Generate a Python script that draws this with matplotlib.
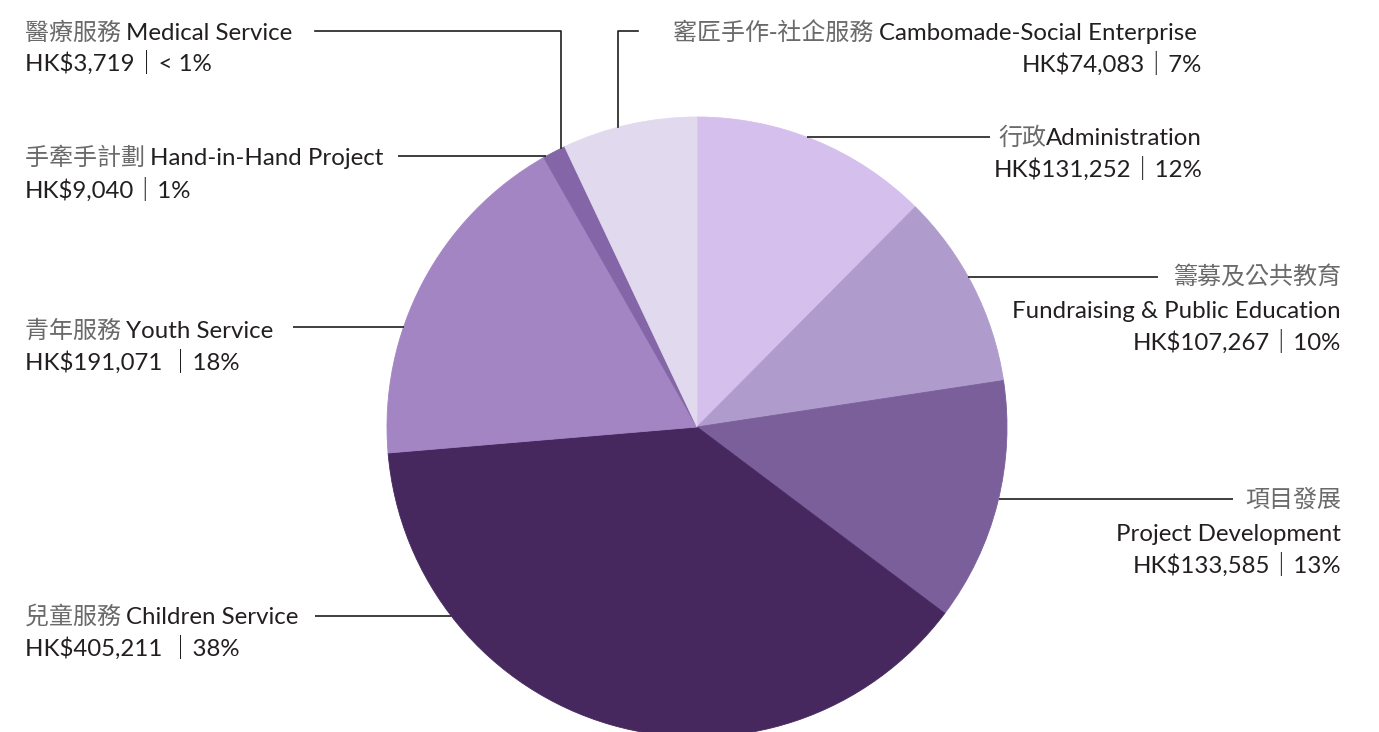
import numpy as np
import matplotlib.pyplot as plt

# data, clockwise from 12 o'clock
labels_zh = ['行政', '籌募及公共教育', '項目發展', '兒童服務', '青年服務',
             '手牽手計劃', '醫療服務', '窰匠手作-社企服務']
labels_en = ['Administration', 'Fundraising & Public Education', 'Project Development',
             'Children Service', 'Youth Service', 'Hand-in-Hand Project',
             'Medical Service', 'Cambomade-Social Enterprise']
amounts = [131252, 107267, 133585, 405211, 191071, 9040, 3719, 74083]
pct_labels = ['12%', '10%', '13%', '38%', '18%', '1%', '< 1%', '7%']
colors = ['#d5bfec', '#af9ccc', '#7a5f9a', '#46285e', '#a485c4',
          '#8466a8', '#8466a8', '#e1d9ee']

W, H = 1379, 732
ZH_FONT = ['Noto Sans CJK TC', 'DejaVu Sans']
EN_FONT = ['Lato', 'Noto Sans CJK TC', 'DejaVu Sans']
ZH_COLOR = '#6a6a6a'
EN_COLOR = '#231f20'
FS = 17.3

fig = plt.figure(figsize=(W / 100, H / 100), dpi=100)
ax = fig.add_axes([0, 0, 1, 1])

cx, cy, r = 697, H - 427, 310
wedges, _ = ax.pie(amounts, colors=colors, startangle=90, counterclock=False,
                   center=(cx, cy), radius=r, wedgeprops=dict(linewidth=0.6))
for w_ in wedges:
    w_.set_edgecolor(w_.get_facecolor())
ax.set_xlim(0, W)
ax.set_ylim(0, H)
ax.axis('off')

rend = fig.canvas.get_renderer()


def Y(y):
    return H - y


def put(x, y, s, font, color, ha):
    t = ax.text(x, Y(y), s, fontsize=FS, family=font, color=color,
                ha=ha, va='baseline')
    return t.get_window_extent(rend).width


def two_tone(x, y, zh, en, ha='left'):
    if ha == 'left':
        w = put(x, y, zh, ZH_FONT, ZH_COLOR, 'left')
        put(x + w, y, en, EN_FONT, EN_COLOR, 'left')
    else:
        w = put(x, y, en, EN_FONT, EN_COLOR, 'right')
        put(x - w, y, zh, ZH_FONT, ZH_COLOR, 'right')


def edge_x(y, side):
    dy = Y(y) - cy
    return cx + side * np.sqrt(r ** 2 - dy ** 2)


def edge_y(x):
    return H - (cy + np.sqrt(r ** 2 - (x - cx) ** 2))


LC = '#1e1e1e'
LW = 1.2


def hline(x0, x1, y):
    ax.plot([x0, x1], [Y(y), Y(y)], color=LC, lw=LW, solid_capstyle='butt')


def amount_line(i, sep='｜'):
    return 'HK$' + format(amounts[i], ',') + sep + pct_labels[i]


# left side labels
# Medical (elbow line)
two_tone(25, 40, labels_zh[6] + ' ', labels_en[6])
put(25, 71, amount_line(6), EN_FONT, EN_COLOR, 'left')
ax.plot([315, 561, 561], [Y(31), Y(31), Y(edge_y(561))], color=LC, lw=LW)

# Hand-in-Hand
two_tone(25, 165, labels_zh[5] + ' ', labels_en[5])
put(25, 198, amount_line(5), EN_FONT, EN_COLOR, 'left')
hline(398, edge_x(156, -1), 156)

# Youth
two_tone(25, 338, labels_zh[4] + ' ', labels_en[4])
put(25, 370, amount_line(4, ' ｜'), EN_FONT, EN_COLOR, 'left')
hline(293, edge_x(327, -1), 327)

# Children
two_tone(25, 624, labels_zh[3] + ' ', labels_en[3])
put(25, 656, amount_line(3, ' ｜'), EN_FONT, EN_COLOR, 'left')
hline(315, edge_x(616, -1), 616)

# right side labels
# Cambomade (elbow line)
two_tone(1197, 40, labels_zh[7] + ' ', labels_en[7], ha='right')
put(1202, 72, amount_line(7), EN_FONT, EN_COLOR, 'right')
ax.plot([638, 618, 618], [Y(31), Y(31), Y(edge_y(618))], color=LC, lw=LW)

# Administration
two_tone(1202, 145, labels_zh[0], labels_en[0], ha='right')
put(1202, 177, amount_line(0), EN_FONT, EN_COLOR, 'right')
hline(edge_x(137, 1), 990, 137)

# Fundraising
put(1341, 285, labels_zh[1], ZH_FONT, ZH_COLOR, 'right')
put(1341, 318, labels_en[1], EN_FONT, EN_COLOR, 'right')
put(1341, 350, amount_line(1), EN_FONT, EN_COLOR, 'right')
hline(edge_x(277, 1), 1158, 277)

# Project Development
put(1341, 507, labels_zh[2], ZH_FONT, ZH_COLOR, 'right')
put(1341, 541, labels_en[2], EN_FONT, EN_COLOR, 'right')
put(1341, 573, amount_line(2), EN_FONT, EN_COLOR, 'right')
hline(edge_x(499, 1), 1233, 499)

fig.savefig('out.png', dpi=100)
